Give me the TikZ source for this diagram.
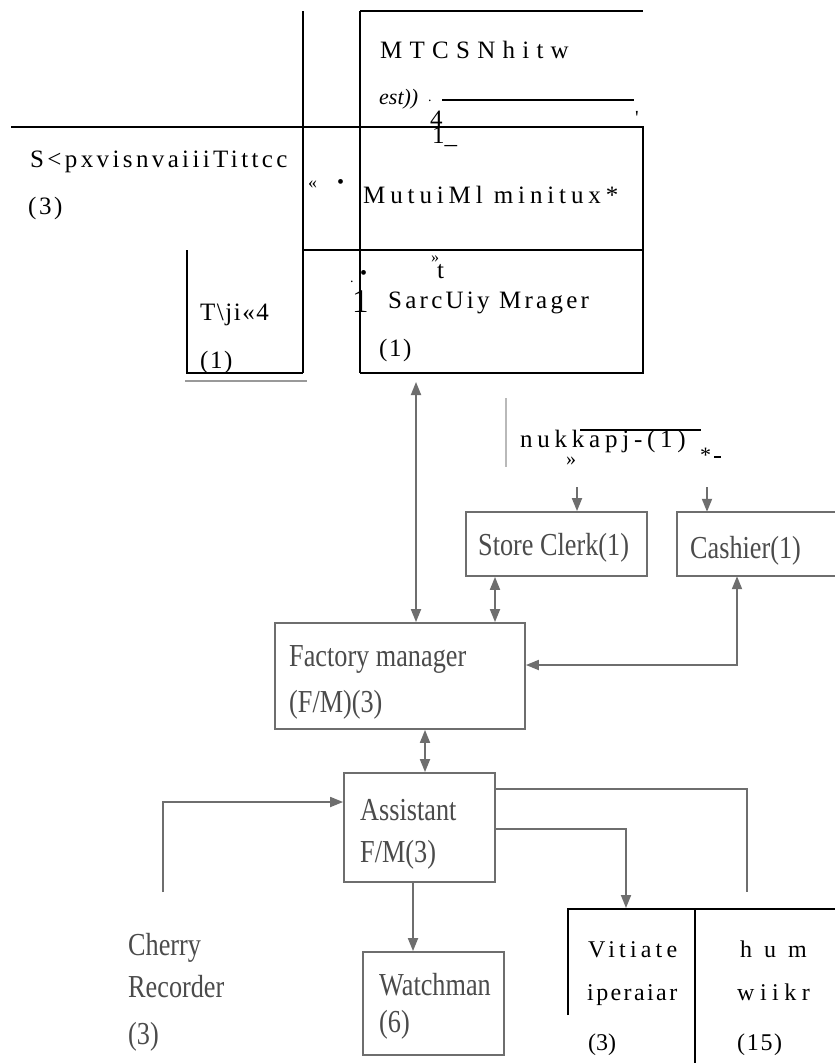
\documentclass[tikz,border=0pt]{standalone}
\usepackage{fontspec}
\setmainfont{Liberation Serif}
\usetikzlibrary{arrows.meta}
\definecolor{lg}{RGB}{110,110,110}
\definecolor{gtx}{RGB}{75,75,75}
\newcommand\lsp[2]{{\addfontfeature{LetterSpace=#1}#2}}
\newcommand\cnd[1]{\scalebox{0.82}[1]{#1}}
\tikzset{
  blk/.style={draw=black, line width=1.1pt},
  gl/.style={draw=lg, line width=1.8pt},
  gbox/.style={draw=lg, line width=1.8pt, rectangle, inner sep=0pt},
  arr/.style={gl, -{Triangle[length=13pt,width=10pt]}},
  darr/.style={gl, {Triangle[length=13pt,width=10pt]}-{Triangle[length=13pt,width=10pt]}},
  tt/.style={anchor=base west, inner sep=0pt, font=\fontsize{25}{30}\selectfont},
  bt/.style={anchor=base west, inner sep=0pt, font=\fontsize{24}{28}\selectfont},
  gt/.style={anchor=base west, inner sep=0pt, text=gtx, font=\fontsize{32}{36}\selectfont},
}
\begin{document}
\begin{tikzpicture}[x=1pt,y=-1pt]
\useasboundingbox (0,0) rectangle (835,1063);
\fill[white] (0,0) rectangle (835,1063);

% ---------- top (typed) table ----------
\draw[blk] (303,11) -- (303,373);
\draw[blk] (360,11) -- (360,373);
\draw[blk] (360,11) -- (643,11);
\draw[blk] (11,127) -- (643,127) -- (643,373) -- (360,373);
\draw[blk] (303,250) -- (643,250);
\draw[blk] (187,250) -- (187,373) -- (303,373);
\draw[black, line width=2pt] (442,100) -- (634,100);
\draw[draw=gray!80, line width=2.8pt] (185,381) -- (307,381);

\node[tt] (t1) at (380,58) {\lsp{29}{MTCSNhitw}};
\node[tt, font=\fontsize{22}{26}\selectfont\itshape] (t2) at (379,104) {est))};
\node[tt, font=\fontsize{14}{16}\selectfont] (t3) at (428,101) {.};
\node[tt] (t4) at (430,127) {4};
\node[tt] (t5) at (432,143) {1\_};
\node[tt, font=\fontsize{20}{22}\selectfont] (t6) at (635,124) {\textquotesingle};
\node[tt] (t7) at (30,167) {\lsp{13.5}{S<pxvisnvaiiiTittcc}};
\node[tt] (t8) at (28,214) {\lsp{10}{(3)}};
\node[tt, font=\fontsize{18}{20}\selectfont] (t9) at (308,188) {«};
\node[tt, font=\fontsize{20}{22}\selectfont] (t10) at (337,188) {•};
\node[tt] (t11) at (363,203) {\lsp{19.5}{MutuiMl minitux*}};
\node[tt, font=\fontsize{14}{16}\selectfont] (t12) at (350,282) {.};
\node[tt, font=\fontsize{20}{22}\selectfont] (t13) at (360,279) {•};
\node[tt, font=\fontsize{16}{18}\selectfont] (t14) at (431,262) {»};
\node[tt] (t15) at (437,278) {t};
\node[tt, font=\fontsize{33}{36}\selectfont] (t16) at (352,312) {1};
\node[tt] (t17) at (388,308) {\lsp{13}{SarcUiy Mrager}};
\node[tt] (t18) at (379,356) {\lsp{6}{(1)}};
\node[tt] (t19) at (200,320) {\lsp{6}{T\textbackslash ji«4}};
\node[tt] (t20) at (200,368) {\lsp{6}{(1)}};

% ---------- middle (scanned) chart ----------
\node[gbox, minimum width=181pt, minimum height=64pt] (store) at (556.5,544) {};
\node[inner sep=0pt, minimum width=158pt, minimum height=64pt] (cash) at (756,544) {};
\draw[gl] (cash.north east) -- (cash.north west) -- (cash.south west) -- (cash.south east);
\node[gbox, minimum width=250pt, minimum height=106pt] (fm) at (400,676) {};
\node[gbox, minimum width=151pt, minimum height=109pt] (asst) at (419.5,827.5) {};
\node[gbox, minimum width=141pt, minimum height=103pt] (watch) at (433.5,1003.5) {};

\node[gt] (l1) at (478,555) {\cnd{Store Clerk(1)}};
\node[gt] (l2) at (690,558) {\cnd{Cashier(1)}};
\node[gt] (l3) at (289,666) {\cnd{Factory manager}};
\node[gt] (l4) at (289,712) {\cnd{(F/M)(3)}};
\node[gt] (l5) at (360,820) {\cnd{Assistant}};
\node[gt] (l6) at (360,862) {\cnd{F/M(3)}};
\node[gt] (l7) at (379,995) {\cnd{Watchman}};
\node[gt] (l8) at (379,1032) {\cnd{(6)}};
\node[gt] (l9) at (128,955) {\cnd{Cherry}};
\node[gt] (l10) at (128,997) {\cnd{Recorder}};
\node[gt] (l11) at (128,1044) {\cnd{(3)}};

\coordinate (sm) at (416,382);
\coordinate (xb) at (495,0);
\coordinate (xc) at (737,0);
\coordinate (yc) at (0,665);
\coordinate (s0) at (577,487);
\coordinate (c0) at (707,487);
\coordinate (xd) at (425,0);
\coordinate (cr) at (163,892);
\coordinate (ye) at (0,802);
\coordinate (xw) at (413,0);
\coordinate (hr) at (747,892);
\coordinate (yf) at (0,789);
\coordinate (yg) at (0,829);
\coordinate (vit) at (626,908);
\coordinate (n0) at (506,398);
\coordinate (n1) at (506,467);

\draw[darr] (fm.north -| sm) -- (sm);
\draw[darr] (store.south -| xb) -- (fm.north -| xb);
\draw[darr] (cash.south -| xc) |- (fm.east |- yc);
\draw[arr] (s0) -- (store.north -| s0);
\draw[arr] (c0) -- (cash.north -| c0);
\draw[darr] (fm.south -| xd) -- (asst.north -| xd);
\draw[arr] (cr) |- (asst.west |- ye);
\draw[arr] (asst.south -| xw) -- (watch.north -| xw);
\draw[gl] (asst.east |- yf) -| (hr);
\draw[arr] (asst.east |- yg) -| (vit);
\draw[draw=gray!55, line width=1.2pt] (n0) -- (n1);

% nukkapj label
\node[tt] (k1) at (520,447) {\lsp{19}{nukkapj-(1)}};
\draw[black, line width=2.2pt] (580,430) -- (701,430);
\node[tt, font=\fontsize{20}{22}\selectfont] (k2) at (566,465) {»};
\node[tt, font=\fontsize{22}{24}\selectfont] (k3) at (700,462) {*};
\draw[black, line width=1.5pt] (714,457) -- (721,457);

% ---------- bottom (typed) table ----------
\draw[blk] (568,1015) -- (568,909) -- (835,909);
\draw[blk] (695,909) -- (695,1063);
\node[bt] (b1) at (588,957) {\lsp{17.5}{Vitiate}};
\node[bt] (b2) at (587,1000) {\lsp{10}{iperaiar}};
\node[bt] (b3) at (588,1050) {(3)};
\node[bt] (b4) at (740,957) {\lsp{50}{hum}};
\node[bt] (b5) at (737,1000) {\lsp{23}{wiikr}};
\node[bt] (b6) at (737,1050) {\lsp{7}{(15)}};
\end{tikzpicture}
\end{document}
